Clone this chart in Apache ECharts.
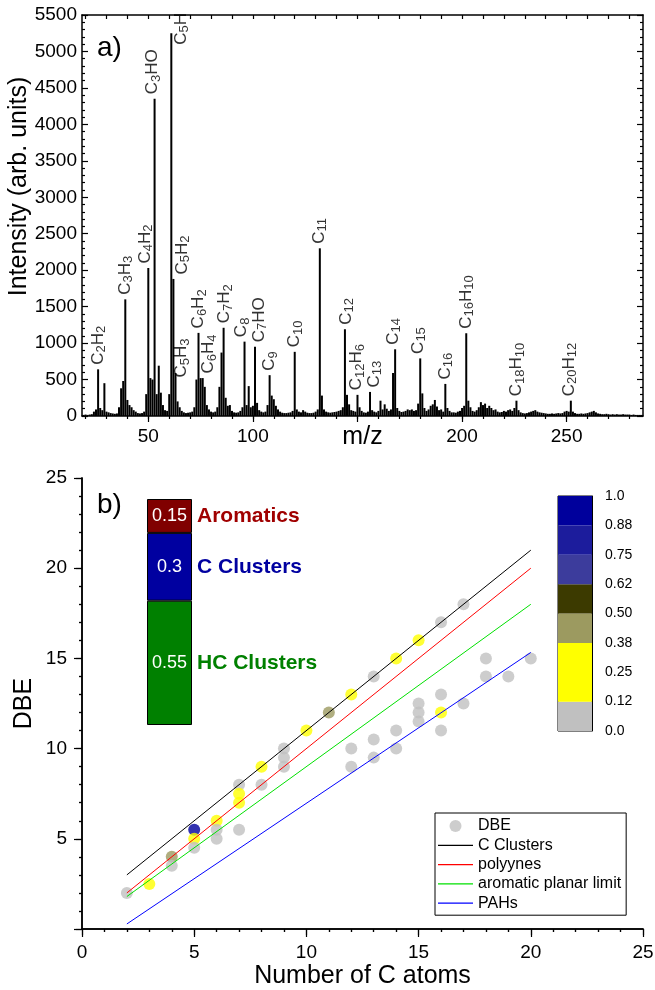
<!DOCTYPE html>
<html><head><meta charset="utf-8">
<script src="https://cdn.jsdelivr.net/npm/echarts@6/dist/echarts.min.js"></script>
<style>html,body{margin:0;padding:0;background:#fff}#c{width:655px;height:990px}</style>
</head><body><div id="c"></div>
<script>
// ---------- panel a) mass spectrum ----------
const spectrumFirstMz = 19;            // intensities below are for m/z 19, 20, 21 ... 286
const spectrumIntensity = [
  15,20,15,20,25,60,90,640,110,80,
  450,60,50,40,35,30,35,120,380,480,
  1600,220,150,120,80,60,40,35,40,60,
  300,2030,520,500,4350,300,690,320,150,80,
  70,300,5250,1880,590,200,120,70,50,40,
  45,50,60,120,500,1140,520,520,400,150,
  90,60,50,60,120,400,870,1210,250,140,
  150,70,50,45,50,70,120,1020,150,410,
  120,140,950,180,80,60,50,60,150,560,
  280,230,140,90,60,45,40,40,45,50,
  70,880,90,60,50,80,60,45,40,40,
  45,60,90,2300,280,90,60,50,45,50,
  55,60,70,80,120,1190,290,160,80,70,
  60,290,120,70,50,45,60,330,80,60,
  50,70,210,90,160,100,70,90,590,915,
  110,70,55,60,70,90,80,90,70,80,
  170,790,310,110,70,90,140,160,220,130,
  80,90,60,440,110,70,50,50,45,60,
  70,110,140,1135,210,120,70,60,80,120,
  190,150,170,110,140,110,80,90,60,50,
  55,70,60,80,90,70,110,210,80,50,
  40,35,40,50,60,70,80,60,50,45,
  40,35,30,30,35,30,35,40,35,40,
  60,70,60,210,60,40,30,30,35,30,
  35,40,50,60,70,50,35,30,25,25,
  30,25,20,25,20,25,20,20,25,20,
  20,20,15,20,15,15,15,15
];
const peakLabelMz = [26,39,50,53,61,62,63,74,76,86,96,101,108,120,132,144,150,156,168,180,192,202,226,252];
const peakLabelText = ['C2H2','C3H3','C4H2','C3HO','C5H','C5H2','C5H3','C6H2','C6H4','C7H2','C8','C7HO','C9','C10',
  'C11','C12','C12H6','C13','C14','C15','C16','C16H10','C18H10','C20H12'];
const topXTickLabels = [50,100,200,250];          // 150 is covered by the axis title
const topXMajorTicks = [50,100,150,200,250];
const topXMinorTicks = [20,30,40,50,60,70,80,90,100,110,120,130,140,150,160,170,180,190,200,210,220,230,240,250,260,270,280];

// ---------- panel b) DBE ----------
const dbeCarbons  = [2,3,4,4,5,5,5,6,6,6,7,7,7,7,8,8,9,9,9,10,11,12,12,12,13,13,13,14,14,14,15,15,15,15,16,16,16,16,17,17,18,18,19,20];
const dbeValues   = [2,2.5,4,3.5,5.5,5,4.5,6,5.5,5,8,7.5,7,5.5,9,8,10,9.5,9,11,12,13,10,9,14,10.5,9.5,15,11,10,16,12.5,12,11.5,17,13,12,11,18,12.5,15,14,14,15];
const dbeFraction = [0.05,0.2,0.45,0.05,0.95,0.2,0.05,0.2,0.05,0.05,0.05,0.2,0.2,0.05,0.2,0.05,0.05,0.05,0.05,0.2,0.45,0.2,0.05,0.05,0.05,0.05,0.05,0.2,0.05,0.05,0.2,0.05,0.05,0.05,0.05,0.05,0.2,0.05,0.05,0.05,0.05,0.05,0.05,0.05];
const lineCarbons = [2, 20];
const cClustersDBE = [3, 21];
const polyynesDBE = [2, 20];
const aromaticLimitDBE = [1.8, 18];
const pahDBE = [0.28, 15.33];
const fractionNames = ['HC Clusters', 'C Clusters', 'Aromatics'];
const fractionValues = [0.55, 0.3, 0.15];
const colorbarTickLabels = ['0.0','0.12','0.25','0.38','0.50','0.62','0.75','0.88','1.0'];
const colorbarLower = [0, 0.12, 0.38, 0.50, 0.62, 0.75, 0.88];
const colorbarUpper = [0.12, 0.38, 0.50, 0.62, 0.75, 0.88, 1.0001];
const colorbarSteps = [1, 2, 1, 1, 1, 1, 1];

// ---------- styles ----------
const peakLabelShift = { // screen px [right, down]
  'C4H2':[-3,0],'C3HO':[-2,0],'C5H':[10,16],'C5H2':[9,0],'C5H3':[6,9],'C6H4':[6,0],'C7H2':[1,0],
  'C8':[-3,0],'C7HO':[4,0],'C11':[-1,0],'C12':[1,0],'C12H6':[-1,0],'C13':[4,0],'C14':[-2,0],'C15':[-2,0],'C20H12':[-2,0]
};
const fractionColors = ['#008000', '#0000a0', '#800000'];
const fractionTextColors = ['#008000', '#0000a0', '#a00000'];
const colorbarColors = ['#c0c0c0', '#ffff00', '#9c9a60', '#3c3a00', '#3c3c9c', '#1c1c9c', '#00009c'];
const FONT = 'Liberation Sans, Arial, sans-serif';
const LINE_ICON = 'path://M0,0L36,0L36,1.2L0,1.2Z';

const spectrumData = spectrumIntensity.map((v, i) => [spectrumFirstMz + i, v]);
function intensityAt(mz) { return spectrumIntensity[mz - spectrumFirstMz]; }
function toRich(s) { return s.replace(/([A-Za-z]+)|(\d+)/g, (m, a, d) => a ? '{m|' + a + '}' : '{s|' + d + '}'); }
const labelData = peakLabelMz.map((mz, i) => {
  const sh = peakLabelShift[peakLabelText[i]] || [0, 0];
  return { name: peakLabelText[i], value: [mz, intensityAt(mz)], label: { offset: [-sh[1], sh[0]] } };
});

const axLine = { show: true, lineStyle: { color: '#000', width: 1.5 } };
const tickStyle = { color: '#000', width: 1.2 };
const TX = [18.3, 286.5];

const option = {
  animation: false,
  textStyle: { fontFamily: FONT, color: '#000' },
  title: [
    { text: 'a)', left: 97, top: 34, padding: 0, textStyle: { fontSize: 28, fontWeight: 'normal', color: '#000', fontFamily: FONT } },
    { text: 'b)', left: 97, top: 491, padding: 0, textStyle: { fontSize: 28, fontWeight: 'normal', color: '#000', fontFamily: FONT } }
  ],
  grid: [
    { left: 82, top: 15, width: 561, height: 401, outerBoundsMode: 'none' },
    { left: 82, top: 478, width: 561, height: 451, outerBoundsMode: 'none' },
    { left: 147, top: 499, width: 45, height: 226, outerBoundsMode: 'none' },
    { left: 558, top: 496, width: 34, height: 235, outerBoundsMode: 'none', show: true, borderColor: '#000', borderWidth: 1 }
  ],
  xAxis: [
    { gridIndex: 0, type: 'value', min: TX[0], max: TX[1], position: 'bottom', axisLine: axLine,
      axisTick: { customValues: topXMajorTicks, length: 6, lineStyle: tickStyle },
      axisLabel: { customValues: topXTickLabels, fontSize: 19, color: '#000', margin: 11 },
      splitLine: { show: false }, name: 'm/z', nameLocation: 'middle', nameGap: 9, nameMoveOverlap: false,
      nameTextStyle: { fontSize: 25, color: '#000' } },
    { gridIndex: 0, type: 'value', min: TX[0], max: TX[1], position: 'bottom', axisLine: { show: false },
      axisTick: { customValues: topXMinorTicks, length: 3, lineStyle: tickStyle }, axisLabel: { show: false }, splitLine: { show: false } },
    { gridIndex: 0, type: 'value', min: TX[0], max: TX[1], position: 'top', axisLine: axLine,
      axisTick: { customValues: topXMinorTicks, inside: true, length: 4, lineStyle: tickStyle }, axisLabel: { show: false }, splitLine: { show: false } },
    { gridIndex: 1, type: 'value', min: 0, max: 25, interval: 5, position: 'bottom', axisLine: axLine,
      axisTick: { length: 8, lineStyle: tickStyle }, minorTick: { show: true, splitNumber: 5, length: 3, lineStyle: tickStyle },
      axisLabel: { fontSize: 19, color: '#000', margin: 14 }, splitLine: { show: false },
      name: 'Number of C atoms', nameLocation: 'middle', nameGap: 35, nameMoveOverlap: false,
      nameTextStyle: { fontSize: 25, color: '#000' } },
    { gridIndex: 1, type: 'value', min: 0, max: 25, interval: 5, position: 'top', axisLine: axLine,
      axisTick: { inside: true, length: 6, lineStyle: tickStyle }, minorTick: { show: true, splitNumber: 5, length: 3, lineStyle: tickStyle },
      axisLabel: { show: false }, splitLine: { show: false } },
    { gridIndex: 2, type: 'category', data: ['frac'], show: false },
    { gridIndex: 3, type: 'category', data: ['cb'], show: false }
  ],
  yAxis: [
    { gridIndex: 0, type: 'value', min: 0, max: 5500, interval: 500, position: 'left', axisLine: axLine,
      axisTick: { inside: true, length: 6, lineStyle: tickStyle }, minorTick: { show: true, splitNumber: 5, length: 3, lineStyle: tickStyle },
      axisLabel: { fontSize: 19, color: '#000', margin: 5, formatter: v => String(v) }, splitLine: { show: false },
      name: 'Intensity (arb. units)', nameLocation: 'middle', nameGap: 50, nameMoveOverlap: false,
      nameTextStyle: { fontSize: 25, color: '#000', padding: [0, 0, 0, 58] } },
    { gridIndex: 0, type: 'value', min: 0, max: 5500, interval: 500, position: 'right', axisLine: axLine,
      axisTick: { inside: true, length: 6, lineStyle: tickStyle }, minorTick: { show: true, splitNumber: 5, length: 3, lineStyle: tickStyle },
      axisLabel: { show: false }, splitLine: { show: false } },
    { gridIndex: 1, type: 'value', min: 0, max: 25, interval: 5, position: 'left', axisLine: axLine,
      axisTick: { length: 8, lineStyle: tickStyle }, minorTick: { show: true, splitNumber: 5, length: 3, lineStyle: tickStyle },
      axisLabel: { fontSize: 19, color: '#000', margin: 15, showMinLabel: false }, splitLine: { show: false },
      name: 'DBE', nameLocation: 'middle', nameGap: 45, nameMoveOverlap: false,
      nameTextStyle: { fontSize: 25, color: '#000' } },
    { gridIndex: 1, type: 'value', min: 0, max: 25, interval: 5, position: 'right', axisLine: axLine,
      axisTick: { inside: true, length: 6, lineStyle: tickStyle }, minorTick: { show: true, splitNumber: 5, length: 3, lineStyle: tickStyle },
      axisLabel: { show: false }, splitLine: { show: false } },
    { gridIndex: 2, type: 'value', min: 0, max: 1, show: false },
    { gridIndex: 3, type: 'value', min: 0, max: 8, interval: 1, position: 'right',
      axisLine: { show: true, lineStyle: { color: '#000', width: 1 } }, axisTick: { length: 8, lineStyle: { color: '#000' } },
      axisLabel: { fontSize: 14, color: '#000', margin: 13, formatter: v => colorbarTickLabels[v] }, splitLine: { show: false } }
  ],
  visualMap: {
    type: 'piecewise', show: false, seriesIndex: 2, dimension: 2,
    pieces: colorbarLower.map((lo, i) => ({ gte: lo, lt: colorbarUpper[i], color: colorbarColors[i] }))
  },
  legend: {
    left: 435, top: 813, orient: 'vertical', selectedMode: false, symbolKeepAspect: true,
    data: [{ name: 'DBE', icon: 'circle' },
           { name: 'C Clusters', icon: LINE_ICON }, { name: 'polyynes', icon: LINE_ICON },
           { name: 'aromatic planar limit', icon: LINE_ICON }, { name: 'PAHs', icon: LINE_ICON }],
    itemWidth: 35, itemHeight: 12, itemGap: 3.3, padding: [5, 5, 4, 3],
    borderColor: '#000', borderWidth: 1, backgroundColor: '#fff',
    textStyle: { fontSize: 16, color: '#000', lineHeight: 16, fontFamily: FONT }
  },
  series: [
    { type: 'bar', name: 'spectrum', xAxisIndex: 0, yAxisIndex: 0, data: spectrumData, barWidth: 2,
      itemStyle: { color: '#000' }, silent: true },
    { type: 'scatter', name: 'peakLabels', xAxisIndex: 0, yAxisIndex: 0, data: labelData, symbolSize: 1,
      itemStyle: { color: 'rgba(0,0,0,0)' }, silent: true,
      label: { show: true, position: 'top', distance: 4, rotate: 90, align: 'left', verticalAlign: 'middle',
        formatter: p => toRich(p.name),
        rich: { m: { fontSize: 17, color: '#000', fontFamily: FONT }, s: { fontSize: 13, color: '#000', fontFamily: FONT, padding: [7, 0, 0, 0] } } } },
    { type: 'scatter', name: 'DBE', xAxisIndex: 3, yAxisIndex: 2, symbolSize: 12,
      itemStyle: { color: '#c0c0c0' }, z: 2,
      data: dbeCarbons.map((c, i) => [c, dbeValues[i], dbeFraction[i]]) },
    { type: 'line', name: 'C Clusters', xAxisIndex: 3, yAxisIndex: 2, symbol: 'none', z: 3,
      lineStyle: { color: '#000', width: 1 }, itemStyle: { color: '#000' },
      data: lineCarbons.map((c, i) => [c, cClustersDBE[i]]) },
    { type: 'line', name: 'polyynes', xAxisIndex: 3, yAxisIndex: 2, symbol: 'none', z: 3,
      lineStyle: { color: '#ff0000', width: 1 }, itemStyle: { color: '#ff0000' },
      data: lineCarbons.map((c, i) => [c, polyynesDBE[i]]) },
    { type: 'line', name: 'aromatic planar limit', xAxisIndex: 3, yAxisIndex: 2, symbol: 'none', z: 3,
      lineStyle: { color: '#00e000', width: 1 }, itemStyle: { color: '#00e000' },
      data: lineCarbons.map((c, i) => [c, aromaticLimitDBE[i]]) },
    { type: 'line', name: 'PAHs', xAxisIndex: 3, yAxisIndex: 2, symbol: 'none', z: 3,
      lineStyle: { color: '#0000ff', width: 1 }, itemStyle: { color: '#0000ff' },
      data: lineCarbons.map((c, i) => [c, pahDBE[i]]) },
    ...fractionNames.map((n, i) => ({
      type: 'bar', name: 'frac-' + n, stack: 'frac', xAxisIndex: 5, yAxisIndex: 4, barWidth: '100%',
      data: [fractionValues[i]], silent: true,
      itemStyle: { color: fractionColors[i], borderColor: '#000', borderWidth: 1 },
      label: { show: true, position: 'insideLeft', distance: 0,
        formatter: '{v|' + fractionValues[i] + '}{n|' + n + '}',
        rich: { v: { width: 45, align: 'center', color: '#fff', fontSize: 18, fontFamily: FONT },
                n: { color: fractionTextColors[i], fontSize: 21, fontWeight: 'bold', fontFamily: FONT, padding: [0, 0, 0, 5] } } }
    })),
    ...colorbarSteps.map((s, i) => ({
      type: 'bar', name: 'cb' + i, stack: 'cb', xAxisIndex: 6, yAxisIndex: 5, barWidth: '100%',
      data: [s], silent: true, itemStyle: { color: colorbarColors[i] }
    }))
  ]
};
const chart = echarts.init(document.getElementById('c'), null, { renderer: 'canvas' });
chart.setOption(option);
</script>
</body></html>
